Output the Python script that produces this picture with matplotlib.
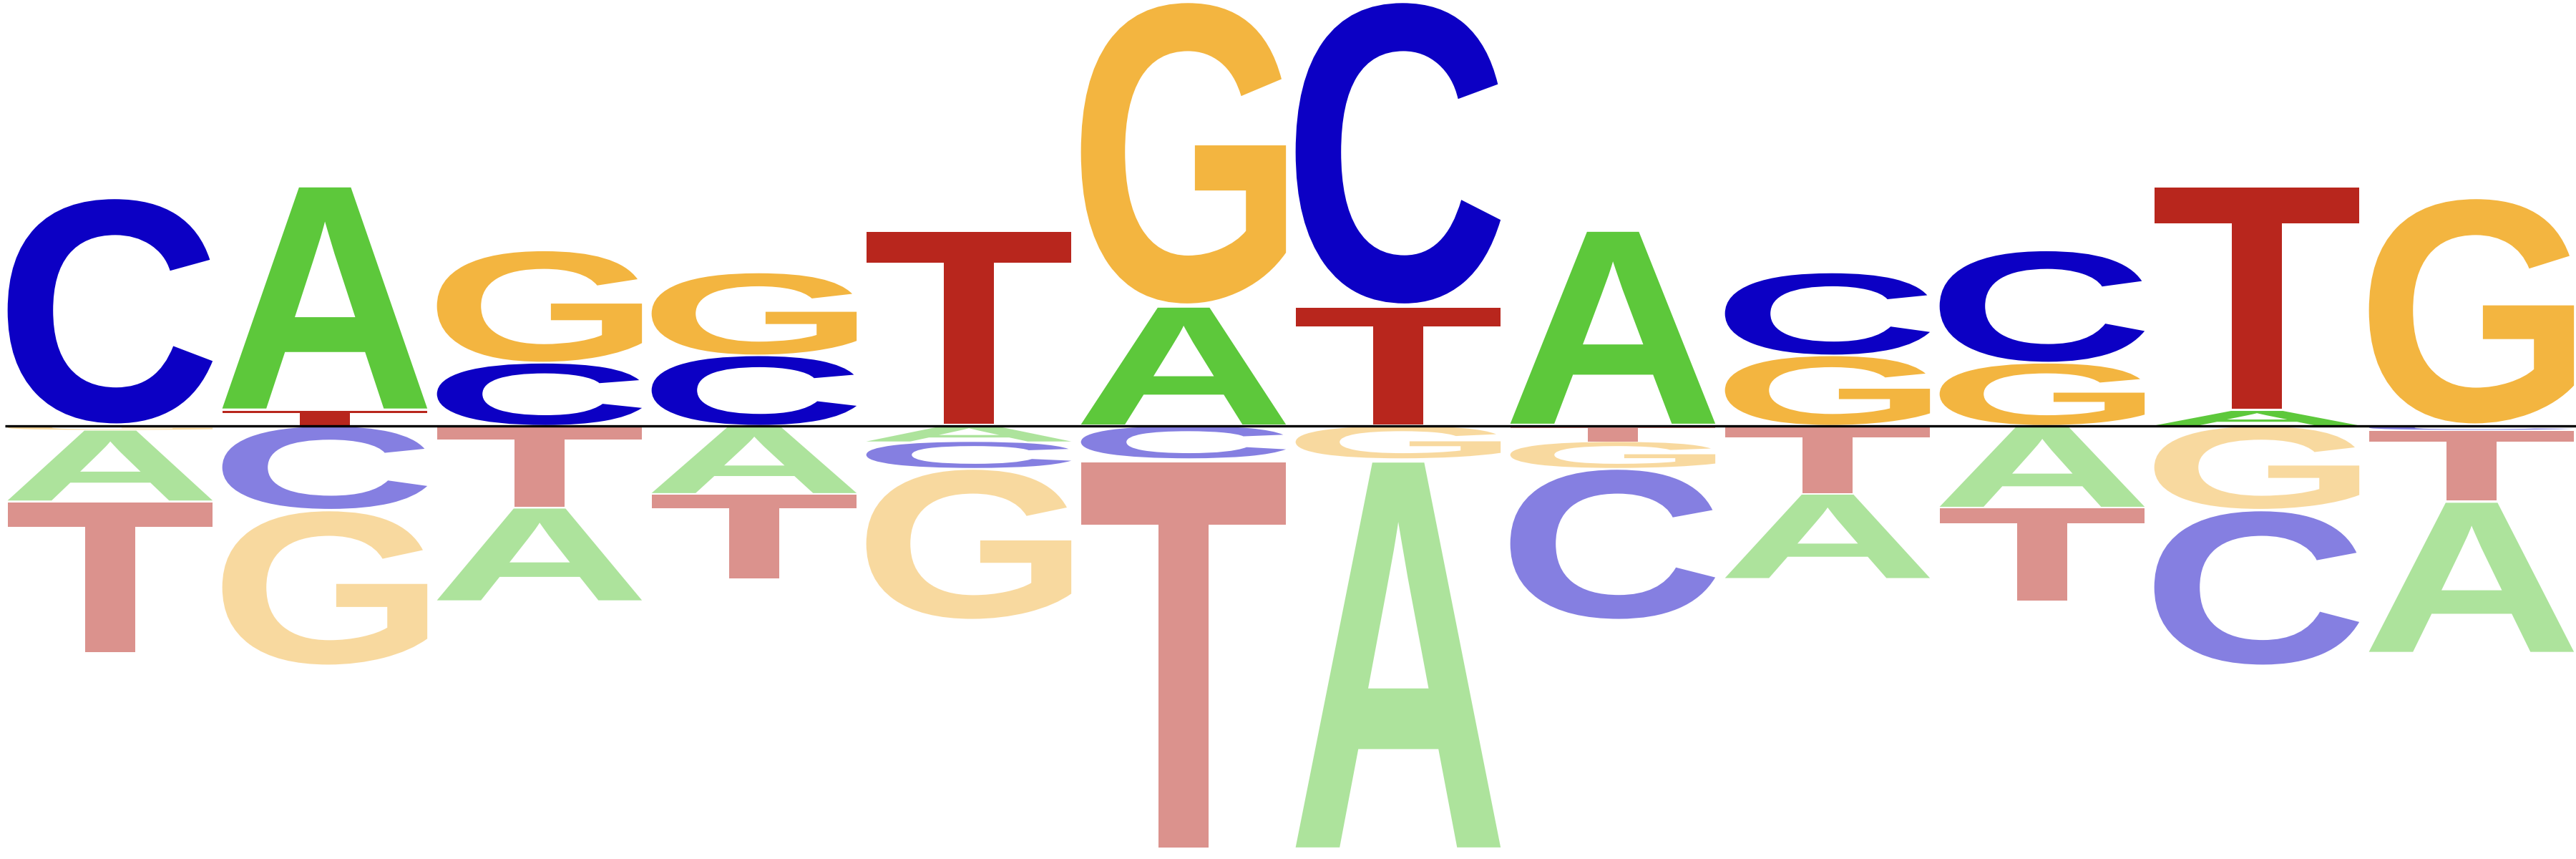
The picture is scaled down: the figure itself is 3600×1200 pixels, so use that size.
import matplotlib
matplotlib.use("Agg")
import matplotlib.pyplot as plt
from matplotlib.textpath import TextPath
from matplotlib.patches import PathPatch
from matplotlib.font_manager import FontProperties
from matplotlib.transforms import Affine2D

# logo matrix, one value per position for each base
positions = list(range(12))
A = [-0.335, 1.06, -0.44, -0.32, -0.075, 0.56, -1.845, 0.92, -0.40, -0.385, 0.07, -0.715]
C = [1.075, -0.395, 0.295, 0.33, -0.125, -0.155, 1.44, -0.715, 0.39, 0.53, -0.735, -0.02]
G = [-0.02, -0.735, 0.53, 0.39, -0.715, 1.44, -0.155, -0.125, 0.33, 0.295, -0.395, 1.075]
T = [-0.715, 0.07, -0.385, -0.40, 0.92, -1.845, 0.56, -0.075, -0.32, -0.44, 1.06, -0.335]

colors = {'A': '#5dc83b', 'C': '#0c00c4', 'G': '#f3b540', 'T': '#b8261d'}
width = 0.955
vpad = 0.02
fade_below = 0.5

font = FontProperties(family='Liberation Sans', weight='bold')


def draw_glyph(ax, char, x, bottom, height, color, alpha):
    path = TextPath((0, 0), char, size=1, prop=font)
    ext = path.get_extents()
    h = height * (1 - vpad)
    y0 = bottom + height * vpad / 2
    tr = (Affine2D()
          .translate(-ext.x0, -ext.y0)
          .scale(width / ext.width, h / ext.height)
          .translate(x - width / 2, y0))
    patch = PathPatch(tr.transform_path(path), facecolor=color, edgecolor='none',
                      linewidth=0, alpha=alpha)
    ax.add_patch(patch)


fig = plt.figure(figsize=(12, 4), dpi=300)
ax = fig.add_axes([0, 0, 1, 1])

data = {'A': A, 'C': C, 'G': G, 'T': T}
for i, x in enumerate(positions):
    vals = [(b, data[b][i]) for b in 'ACGT']
    pos = sorted([v for v in vals if v[1] > 0], key=lambda v: v[1])
    neg = sorted([v for v in vals if v[1] < 0], key=lambda v: -v[1])
    y = 0.0
    for b, v in pos:
        draw_glyph(ax, b, x, y, v, colors[b], 1.0)
        y += v
    y = 0.0
    for b, v in neg:
        draw_glyph(ax, b, x, y + v, -v, colors[b], fade_below)
        y += v

ax.hlines(0, -0.49, 11.5, color='black', linewidth=0.8, zorder=10)

ax.set_xlim(-0.513, 11.487)
ax.set_ylim(-2.036, 2.0)
ax.axis('off')

fig.savefig('out.png', dpi=300)
